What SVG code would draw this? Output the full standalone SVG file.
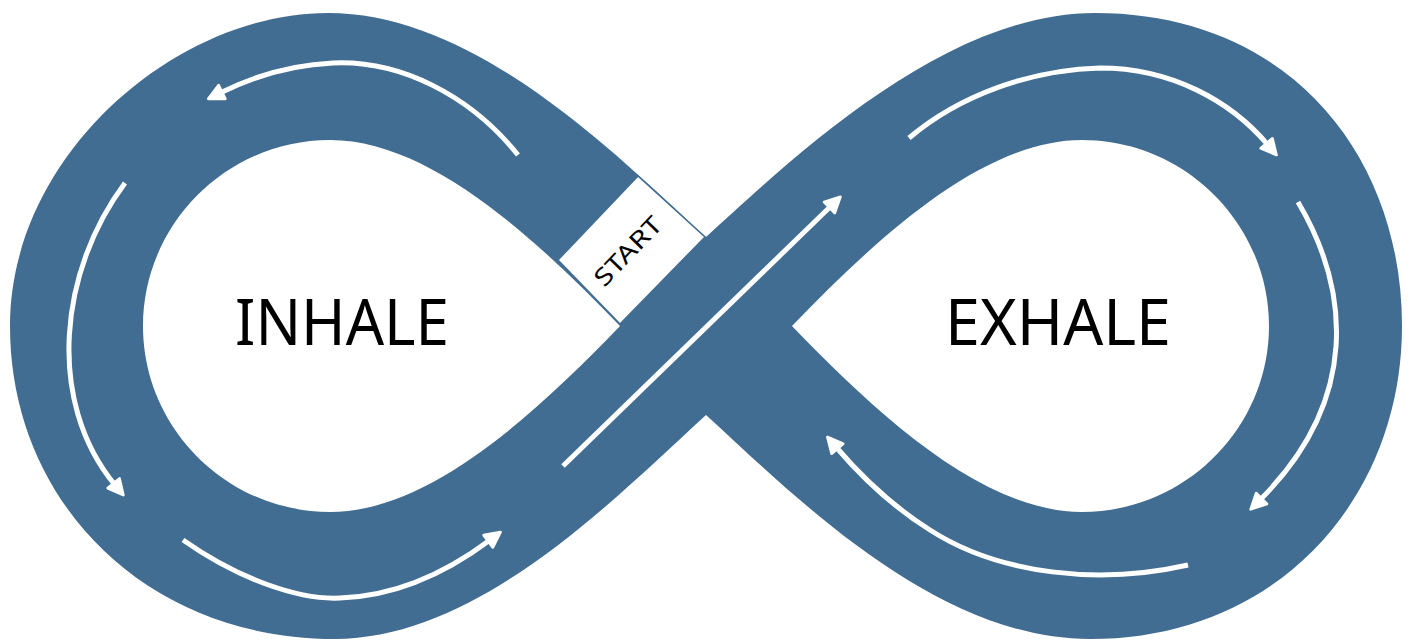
<svg xmlns="http://www.w3.org/2000/svg" width="1415" height="641" viewBox="0 0 1415 641">
  <style>
    .band { fill: #426d93; fill-rule: evenodd; }
    .flow { fill: none; stroke: #ffffff; stroke-width: 5; stroke-linecap: butt; marker-end: url(#head); }
    .label { font-family: "Noto Sans", "Open Sans", sans-serif; fill: #000000; }
  </style>
  <defs>
    <marker id="head" markerUnits="userSpaceOnUse" markerWidth="24" markerHeight="24" viewBox="-3 -10 22 20" refX="2" refY="0" orient="auto">
      <path d="M0,-7 L14,0 L0,7 Z" fill="#ffffff" stroke="#ffffff" stroke-width="2.5" stroke-linejoin="round"/>
    </marker>
  </defs>

  <!-- infinity band with both loops cut out -->
  <g id="band">
    <path class="band" d="M706,237 C617,156 477,13 328,13 C175,13 10,156 10,326 C10,501 145,639 335,639 C480,639 617,496 706,415 C795,496 935,639 1090,639 C1280,639 1402,496 1402,326 C1402,156 1290,13 1095,13 C945,13 795,156 706,237 Z
      M143,326 C143,224 227,140 330,140 C430,140 536,239 620,326 C536,413 430,512 330,512 C227,512 143,428 143,326 Z
      M1269,326 C1269,224 1185,140 1082,140 C982,140 876,239 792,326 C876,413 982,512 1082,512 C1185,512 1269,428 1269,326 Z"/>
  </g>

  <!-- start gate across the band -->
  <g id="start">
    <polygon points="558,260 638,176 705,237 620,324" fill="#ffffff" stroke="#426d93" stroke-width="1.5"/>
    <text class="label" x="0" y="0" font-size="24" text-anchor="middle" textLength="86" lengthAdjust="spacingAndGlyphs" transform="translate(634,257) rotate(-46)">START</text>
  </g>

  <g id="inhale">
    <text class="label" x="342" y="345" font-size="64" text-anchor="middle" textLength="214" lengthAdjust="spacingAndGlyphs">INHALE</text>
  </g>
  <g id="exhale">
    <text class="label" x="1058" y="345" font-size="64" text-anchor="middle" textLength="226" lengthAdjust="spacingAndGlyphs">EXHALE</text>
  </g>

  <!-- direction arrows along the track -->
  <g id="connectors">
    <path class="flow" d="M518,155 C470,95 400,60 333,63 C290,65 250,78 220,93"/>
    <path class="flow" d="M125,183 C60,270 45,400 115,485"/>
    <path class="flow" d="M183,540 C240,580 300,600 340,598 C400,596 450,570 490,540"/>
    <path class="flow" d="M563,466 L831,206"/>
    <path class="flow" d="M909,138 C960,95 1030,70 1100,68 C1170,68 1230,100 1268,145"/>
    <path class="flow" d="M1298,202 C1350,290 1360,400 1260,500"/>
    <path class="flow" d="M1188,565 C1100,585 1000,575 930,530 C890,505 860,475 836,447"/>
  </g>
</svg>
